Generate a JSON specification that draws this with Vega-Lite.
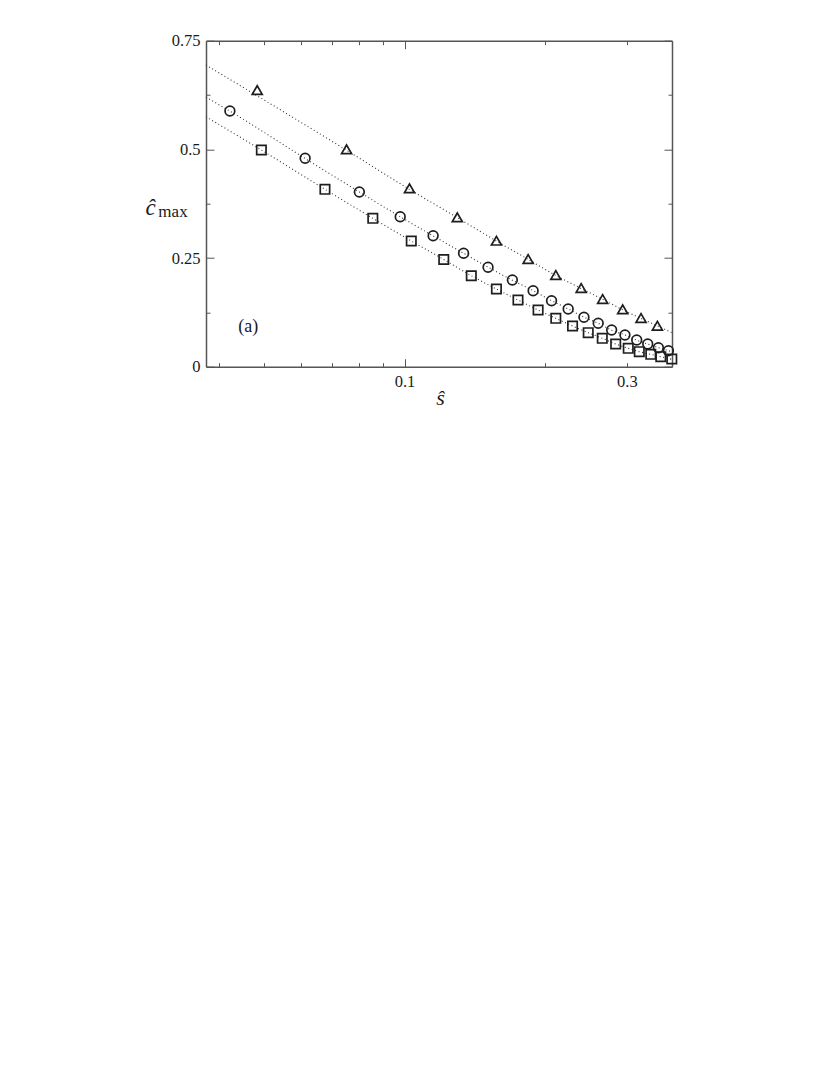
{
  "$schema": "https://vega.github.io/schema/vega-lite/v6.json",
  "autosize": {"type": "none"},
  "width": 466,
  "height": 326,
  "padding": {"left": 206, "top": 40.7, "right": 158, "bottom": 708.3},
  "background": "white",
  "config": {
    "view": {"stroke": null},
    "font": "Liberation Serif",
    "axis": {
      "domainColor": "#555555",
      "domainWidth": 1.5,
      "tickColor": "#555555",
      "tickWidth": 1,
      "grid": false,
      "labelFont": "Liberation Serif",
      "labelFontSize": 16.5,
      "labelColor": "#1a1a1a",
      "titleFont": "Liberation Serif",
      "titleColor": "#1a1a1a",
      "titleFontWeight": "normal"
    }
  },
  "datasets": {
    "pts": [
      {"g": "tri", "s": 0.0483, "c": 0.6365},
      {"g": "tri", "s": 0.0751, "c": 0.5001},
      {"g": "tri", "s": 0.1025, "c": 0.4104},
      {"g": "tri", "s": 0.1298, "c": 0.3437},
      {"g": "tri", "s": 0.1575, "c": 0.2899},
      {"g": "tri", "s": 0.1842, "c": 0.2478},
      {"g": "tri", "s": 0.2112, "c": 0.2110},
      {"g": "tri", "s": 0.2394, "c": 0.1810},
      {"g": "tri", "s": 0.2662, "c": 0.1557},
      {"g": "tri", "s": 0.2939, "c": 0.1320},
      {"g": "tri", "s": 0.3218, "c": 0.1120},
      {"g": "tri", "s": 0.3489, "c": 0.0943},
      {"g": "circ", "s": 0.0422, "c": 0.5882},
      {"g": "circ", "s": 0.0612, "c": 0.4794},
      {"g": "circ", "s": 0.0800, "c": 0.4019},
      {"g": "circ", "s": 0.0979, "c": 0.3451},
      {"g": "circ", "s": 0.1152, "c": 0.3011},
      {"g": "circ", "s": 0.1339, "c": 0.2609},
      {"g": "circ", "s": 0.1511, "c": 0.2287},
      {"g": "circ", "s": 0.1704, "c": 0.1994},
      {"g": "circ", "s": 0.1888, "c": 0.1748},
      {"g": "circ", "s": 0.2068, "c": 0.1518},
      {"g": "circ", "s": 0.2245, "c": 0.1327},
      {"g": "circ", "s": 0.2427, "c": 0.1136},
      {"g": "circ", "s": 0.2604, "c": 0.0998},
      {"g": "circ", "s": 0.2783, "c": 0.0844},
      {"g": "circ", "s": 0.2972, "c": 0.0729},
      {"g": "circ", "s": 0.3150, "c": 0.0614},
      {"g": "circ", "s": 0.3326, "c": 0.0522},
      {"g": "circ", "s": 0.3506, "c": 0.0437},
      {"g": "circ", "s": 0.3684, "c": 0.0368},
      {"g": "sq", "s": 0.0493, "c": 0.4985},
      {"g": "sq", "s": 0.0675, "c": 0.4081},
      {"g": "sq", "s": 0.0855, "c": 0.3414},
      {"g": "sq", "s": 0.1034, "c": 0.2892},
      {"g": "sq", "s": 0.1214, "c": 0.2466},
      {"g": "sq", "s": 0.1391, "c": 0.2093},
      {"g": "sq", "s": 0.1575, "c": 0.1787},
      {"g": "sq", "s": 0.1752, "c": 0.1534},
      {"g": "sq", "s": 0.1935, "c": 0.1304},
      {"g": "sq", "s": 0.2112, "c": 0.1113},
      {"g": "sq", "s": 0.2294, "c": 0.0936},
      {"g": "sq", "s": 0.2479, "c": 0.0782},
      {"g": "sq", "s": 0.2657, "c": 0.0653},
      {"g": "sq", "s": 0.2839, "c": 0.0522},
      {"g": "sq", "s": 0.3021, "c": 0.0423},
      {"g": "sq", "s": 0.3190, "c": 0.0345},
      {"g": "sq", "s": 0.3377, "c": 0.0285},
      {"g": "sq", "s": 0.3548, "c": 0.0230},
      {"g": "sq", "s": 0.3746, "c": 0.0177}
    ],
    "fits": [
      {"g": "tri", "s": 0.0375, "c": 0.694},
      {"g": "tri", "s": 0.0751, "c": 0.498},
      {"g": "tri", "s": 0.1025, "c": 0.408},
      {"g": "tri", "s": 0.1298, "c": 0.343},
      {"g": "tri", "s": 0.1575, "c": 0.289},
      {"g": "tri", "s": 0.1842, "c": 0.247},
      {"g": "tri", "s": 0.2112, "c": 0.210},
      {"g": "tri", "s": 0.2394, "c": 0.180},
      {"g": "tri", "s": 0.2662, "c": 0.155},
      {"g": "tri", "s": 0.2939, "c": 0.131},
      {"g": "tri", "s": 0.3218, "c": 0.111},
      {"g": "tri", "s": 0.3489, "c": 0.094},
      {"g": "tri", "s": 0.375, "c": 0.078},
      {"g": "circ", "s": 0.0375, "c": 0.620},
      {"g": "circ", "s": 0.0422, "c": 0.588},
      {"g": "circ", "s": 0.0612, "c": 0.479},
      {"g": "circ", "s": 0.0800, "c": 0.402},
      {"g": "circ", "s": 0.0979, "c": 0.345},
      {"g": "circ", "s": 0.1152, "c": 0.301},
      {"g": "circ", "s": 0.1339, "c": 0.261},
      {"g": "circ", "s": 0.1511, "c": 0.229},
      {"g": "circ", "s": 0.1704, "c": 0.199},
      {"g": "circ", "s": 0.1888, "c": 0.175},
      {"g": "circ", "s": 0.2068, "c": 0.152},
      {"g": "circ", "s": 0.2245, "c": 0.133},
      {"g": "circ", "s": 0.2427, "c": 0.114},
      {"g": "circ", "s": 0.2604, "c": 0.100},
      {"g": "circ", "s": 0.2783, "c": 0.084},
      {"g": "circ", "s": 0.2972, "c": 0.073},
      {"g": "circ", "s": 0.3150, "c": 0.061},
      {"g": "circ", "s": 0.3326, "c": 0.052},
      {"g": "circ", "s": 0.3506, "c": 0.044},
      {"g": "circ", "s": 0.3684, "c": 0.037},
      {"g": "circ", "s": 0.375, "c": 0.034},
      {"g": "sq", "s": 0.0375, "c": 0.575},
      {"g": "sq", "s": 0.0493, "c": 0.4985},
      {"g": "sq", "s": 0.0675, "c": 0.4081},
      {"g": "sq", "s": 0.0855, "c": 0.3414},
      {"g": "sq", "s": 0.1034, "c": 0.2892},
      {"g": "sq", "s": 0.1214, "c": 0.2466},
      {"g": "sq", "s": 0.1391, "c": 0.2093},
      {"g": "sq", "s": 0.1575, "c": 0.1787},
      {"g": "sq", "s": 0.1752, "c": 0.1534},
      {"g": "sq", "s": 0.1935, "c": 0.1304},
      {"g": "sq", "s": 0.2112, "c": 0.1113},
      {"g": "sq", "s": 0.2294, "c": 0.0936},
      {"g": "sq", "s": 0.2479, "c": 0.0782},
      {"g": "sq", "s": 0.2657, "c": 0.0653},
      {"g": "sq", "s": 0.2839, "c": 0.0522},
      {"g": "sq", "s": 0.3021, "c": 0.0423},
      {"g": "sq", "s": 0.3190, "c": 0.0345},
      {"g": "sq", "s": 0.3377, "c": 0.0285},
      {"g": "sq", "s": 0.3548, "c": 0.0230},
      {"g": "sq", "s": 0.375, "c": 0.0170}
    ]
  },
  "layer": [
    {
      "data": {"name": "fits"},
      "mark": {"type": "line", "stroke": "#333333", "strokeWidth": 1.1, "strokeDash": [1, 2.6], "interpolate": "monotone"},
      "encoding": {
        "x": {
          "field": "s", "type": "quantitative",
          "scale": {"type": "log", "domain": [0.0375, 0.375], "nice": false},
          "axis": {
            "orient": "bottom",
            "values": [0.04, 0.05, 0.06, 0.07, 0.08, 0.09, 0.1, 0.2, 0.3],
            "labelExpr": "abs(datum.value-0.1)<1e-6 ? '0.1' : (abs(datum.value-0.3)<1e-6 ? '0.3' : '')",
            "tickSize": {"condition": {"test": "abs(datum.value-0.1)<1e-6", "value": -8}, "value": -4},
            "labelPadding": {"condition": {"test": "abs(datum.value-0.1)<1e-6", "value": 15}, "value": 11},
            "labelFlush": false,
            "labelOverlap": false,
            "title": "ŝ",
            "titleFontStyle": "italic",
            "titleFontSize": 22,
            "titleX": 234,
            "titleY": 38,
            "titleAlign": "center",
            "titleBaseline": "alphabetic"
          }
        },
        "y": {
          "field": "c", "type": "quantitative",
          "scale": {"domain": [0, 0.75], "nice": false},
          "axis": {
            "orient": "left",
            "values": [0, 0.125, 0.25, 0.375, 0.5, 0.625, 0.75],
            "labelExpr": "datum.value == 0 ? '0' : datum.value == 0.25 ? '0.25' : datum.value == 0.5 ? '0.5' : datum.value == 0.75 ? '0.75' : ''",
            "tickSize": {"condition": {"test": "datum.value == 0 || datum.value == 0.25 || datum.value == 0.5 || datum.value == 0.75", "value": -8}, "value": -4},
            "labelPadding": {"condition": {"test": "datum.value == 0 || datum.value == 0.25 || datum.value == 0.5 || datum.value == 0.75", "value": 14}, "value": 10},
            "labelFlush": false,
            "labelOverlap": false,
            "title": "ĉ",
            "titleFontStyle": "italic",
            "titleFontSize": 23,
            "titleAngle": 0,
            "titleX": -56,
            "titleY": 174,
            "titleAlign": "center",
            "titleBaseline": "alphabetic"
          }
        },
        "detail": {"field": "g"}
      }
    },
    {
      "data": {"name": "pts"},
      "mark": {"type": "point", "filled": false, "stroke": "#1e1e1e", "strokeWidth": 1.7, "opacity": 1},
      "encoding": {
        "x": {
          "field": "s", "type": "quantitative",
          "axis": {
            "orient": "top", "labels": false, "title": null,
            "values": [0.04, 0.05, 0.06, 0.07, 0.08, 0.09, 0.1, 0.2, 0.3],
            "tickSize": {"condition": {"test": "abs(datum.value-0.1)<1e-6", "value": -8}, "value": -4}
          }
        },
        "y": {
          "field": "c", "type": "quantitative",
          "axis": {
            "orient": "right", "labels": false, "title": null,
            "values": [0, 0.125, 0.25, 0.375, 0.5, 0.625, 0.75],
            "tickSize": {"condition": {"test": "datum.value == 0 || datum.value == 0.25 || datum.value == 0.5 || datum.value == 0.75", "value": -8}, "value": -4}
          }
        },
        "shape": {"field": "g", "type": "nominal", "scale": {"domain": ["tri", "circ", "sq"], "range": ["triangle-up", "circle", "square"]}, "legend": null},
        "size": {"field": "g", "type": "nominal", "scale": {"domain": ["tri", "circ", "sq"], "range": [100, 88, 70]}, "legend": null}
      }
    },
    {
      "data": {"values": [{"label": "(a)"}]},
      "mark": {"type": "text", "font": "Liberation Serif", "fontSize": 18, "color": "#1a1a1a", "align": "center", "baseline": "middle"},
      "encoding": {
        "text": {"field": "label"},
        "x": {"datum": 0.0462, "type": "quantitative", "axis": null},
        "y": {"datum": 0.0913, "type": "quantitative", "axis": null}
      }
    },
    {
      "data": {"values": [{"label": "max"}]},
      "mark": {"type": "text", "font": "Liberation Serif", "fontSize": 17, "color": "#1a1a1a", "align": "center", "baseline": "alphabetic"},
      "encoding": {
        "text": {"field": "label"},
        "x": {"datum": 0.03186, "type": "quantitative", "axis": null},
        "y": {"datum": 0.3444, "type": "quantitative", "axis": null}
      }
    }
  ],
  "resolve": {"axis": {"x": "independent", "y": "independent"}}
}
